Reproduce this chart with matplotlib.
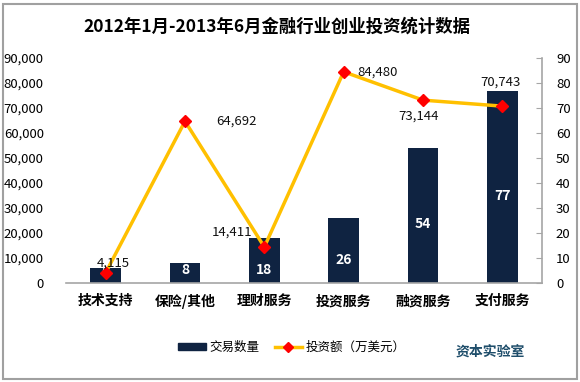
import matplotlib
matplotlib.use('Agg')
import matplotlib.pyplot as plt
from matplotlib.patches import Patch, Rectangle
from matplotlib.lines import Line2D
from matplotlib.ticker import FuncFormatter

plt.rcParams['font.family'] = ['Noto Sans CJK SC', 'DejaVu Sans']

title = '2012年1月-2013年6月金融行业创业投资统计数据'
cats = ['技术支持', '保险/其他', '理财服务', '投资服务', '融资服务', '支付服务']
deals = [6, 8, 18, 26, 54, 77]                            # 交易数量 (right axis)
amount = [4115, 64692, 14411, 84480, 73144, 70743]       # 投资额 万美元 (left axis)
# label offsets in pixels (dx, dy, ha, va) for the amount labels
lbl_pos = [(8, 10, 'center', 'center'), (31, 0, 'left', 'center'),
           (-12, 15, 'right', 'center'), (14, 0, 'left', 'center'),
           (-4, -16, 'center', 'center'), (-2, 24, 'center', 'center')]

bar_c = '#0f2341'
line_c = '#ffc000'
grey = '#a6a6a6'

fig = plt.figure(figsize=(5.8, 3.82), dpi=100)
fig.patches.append(Rectangle((3/580, 3/382), 574/580, 375/382, transform=fig.transFigure,
                             fill=False, edgecolor='#a0a0a0', lw=1.5))
ax = fig.add_axes([66/580, 1-283/382, 476/580, 225/382])
ax2 = ax.twinx()

x = range(len(cats))
ax.bar(x, deals, width=0.39, color=bar_c, zorder=2)
ax.set_ylim(0, 90)
ax.set_xlim(-0.5, len(cats)-0.5)
ax.set_yticks(range(0, 91, 10))
ax.tick_params(axis='y', which='both', left=False, labelleft=False, right=True, labelright=True,
               direction='in', length=4, color=grey, pad=10, labelsize=9.5)
ax.tick_params(axis='x', length=0, pad=8)
ax.set_xticks(list(x))
ax.set_xticklabels(cats, fontsize=10, fontweight='bold')
for s in ['top', 'left']:
    ax.spines[s].set_visible(False)
ax.spines['right'].set_color(grey)
ax.spines['bottom'].set_color(grey)
ax.spines['right'].set_linewidth(1.2)
ax.spines['bottom'].set_linewidth(1.2)
for i, v in enumerate(deals):
    off = 3 if v < 10 else -9
    ax.annotate(str(v), (i, v/2), xytext=(0, off), textcoords='offset pixels',
                ha='center', va='center', color='white', fontsize=10, fontweight='bold')

ax2.plot(x, amount, color=line_c, lw=2.5, marker='D', markersize=6,
         markerfacecolor='#ff0000', markeredgecolor='#ff0000', zorder=3)
ax2.set_ylim(0, 90000)
ax2.set_yticks(range(0, 90001, 10000))
ax2.yaxis.set_major_formatter(FuncFormatter(lambda v, p: f'{int(v):,}'))
ax2.tick_params(axis='y', right=False, labelright=False, left=False, labelleft=True,
                length=0, pad=16, labelsize=9.5)
for s in ['top', 'left', 'right', 'bottom']:
    ax2.spines[s].set_visible(False)
for i, v in enumerate(amount):
    dx, dy, ha, va = lbl_pos[i]
    ax2.annotate(f'{v:,}', (i, v), xytext=(dx, dy), textcoords='offset pixels',
                 ha=ha, va=va, fontsize=9.5, fontweight='medium', color='#111111')

fig.text(277/580, 1-27/382, title, ha='center', va='center', fontsize=12.5, fontweight='bold')

handles = [Patch(color=bar_c),
           Line2D([], [], color=line_c, lw=2.5, marker='D', markersize=5,
                  markerfacecolor='#ff0000', markeredgecolor='#ff0000')]
fig.legend(handles, ['交易数量', '投资额（万美元）'], loc='center', ncol=2,
           bbox_to_anchor=(292/580, 1-347/382), frameon=False, fontsize=9,
           handlelength=2.2, handleheight=0.5, columnspacing=1.2, handletextpad=0.3)
fig.text(490/580, 1-352/382, '资本实验室', ha='center', va='center', fontsize=10,
         fontweight='bold', color='#1f4e6b')

fig.savefig('out.png', dpi=100)
